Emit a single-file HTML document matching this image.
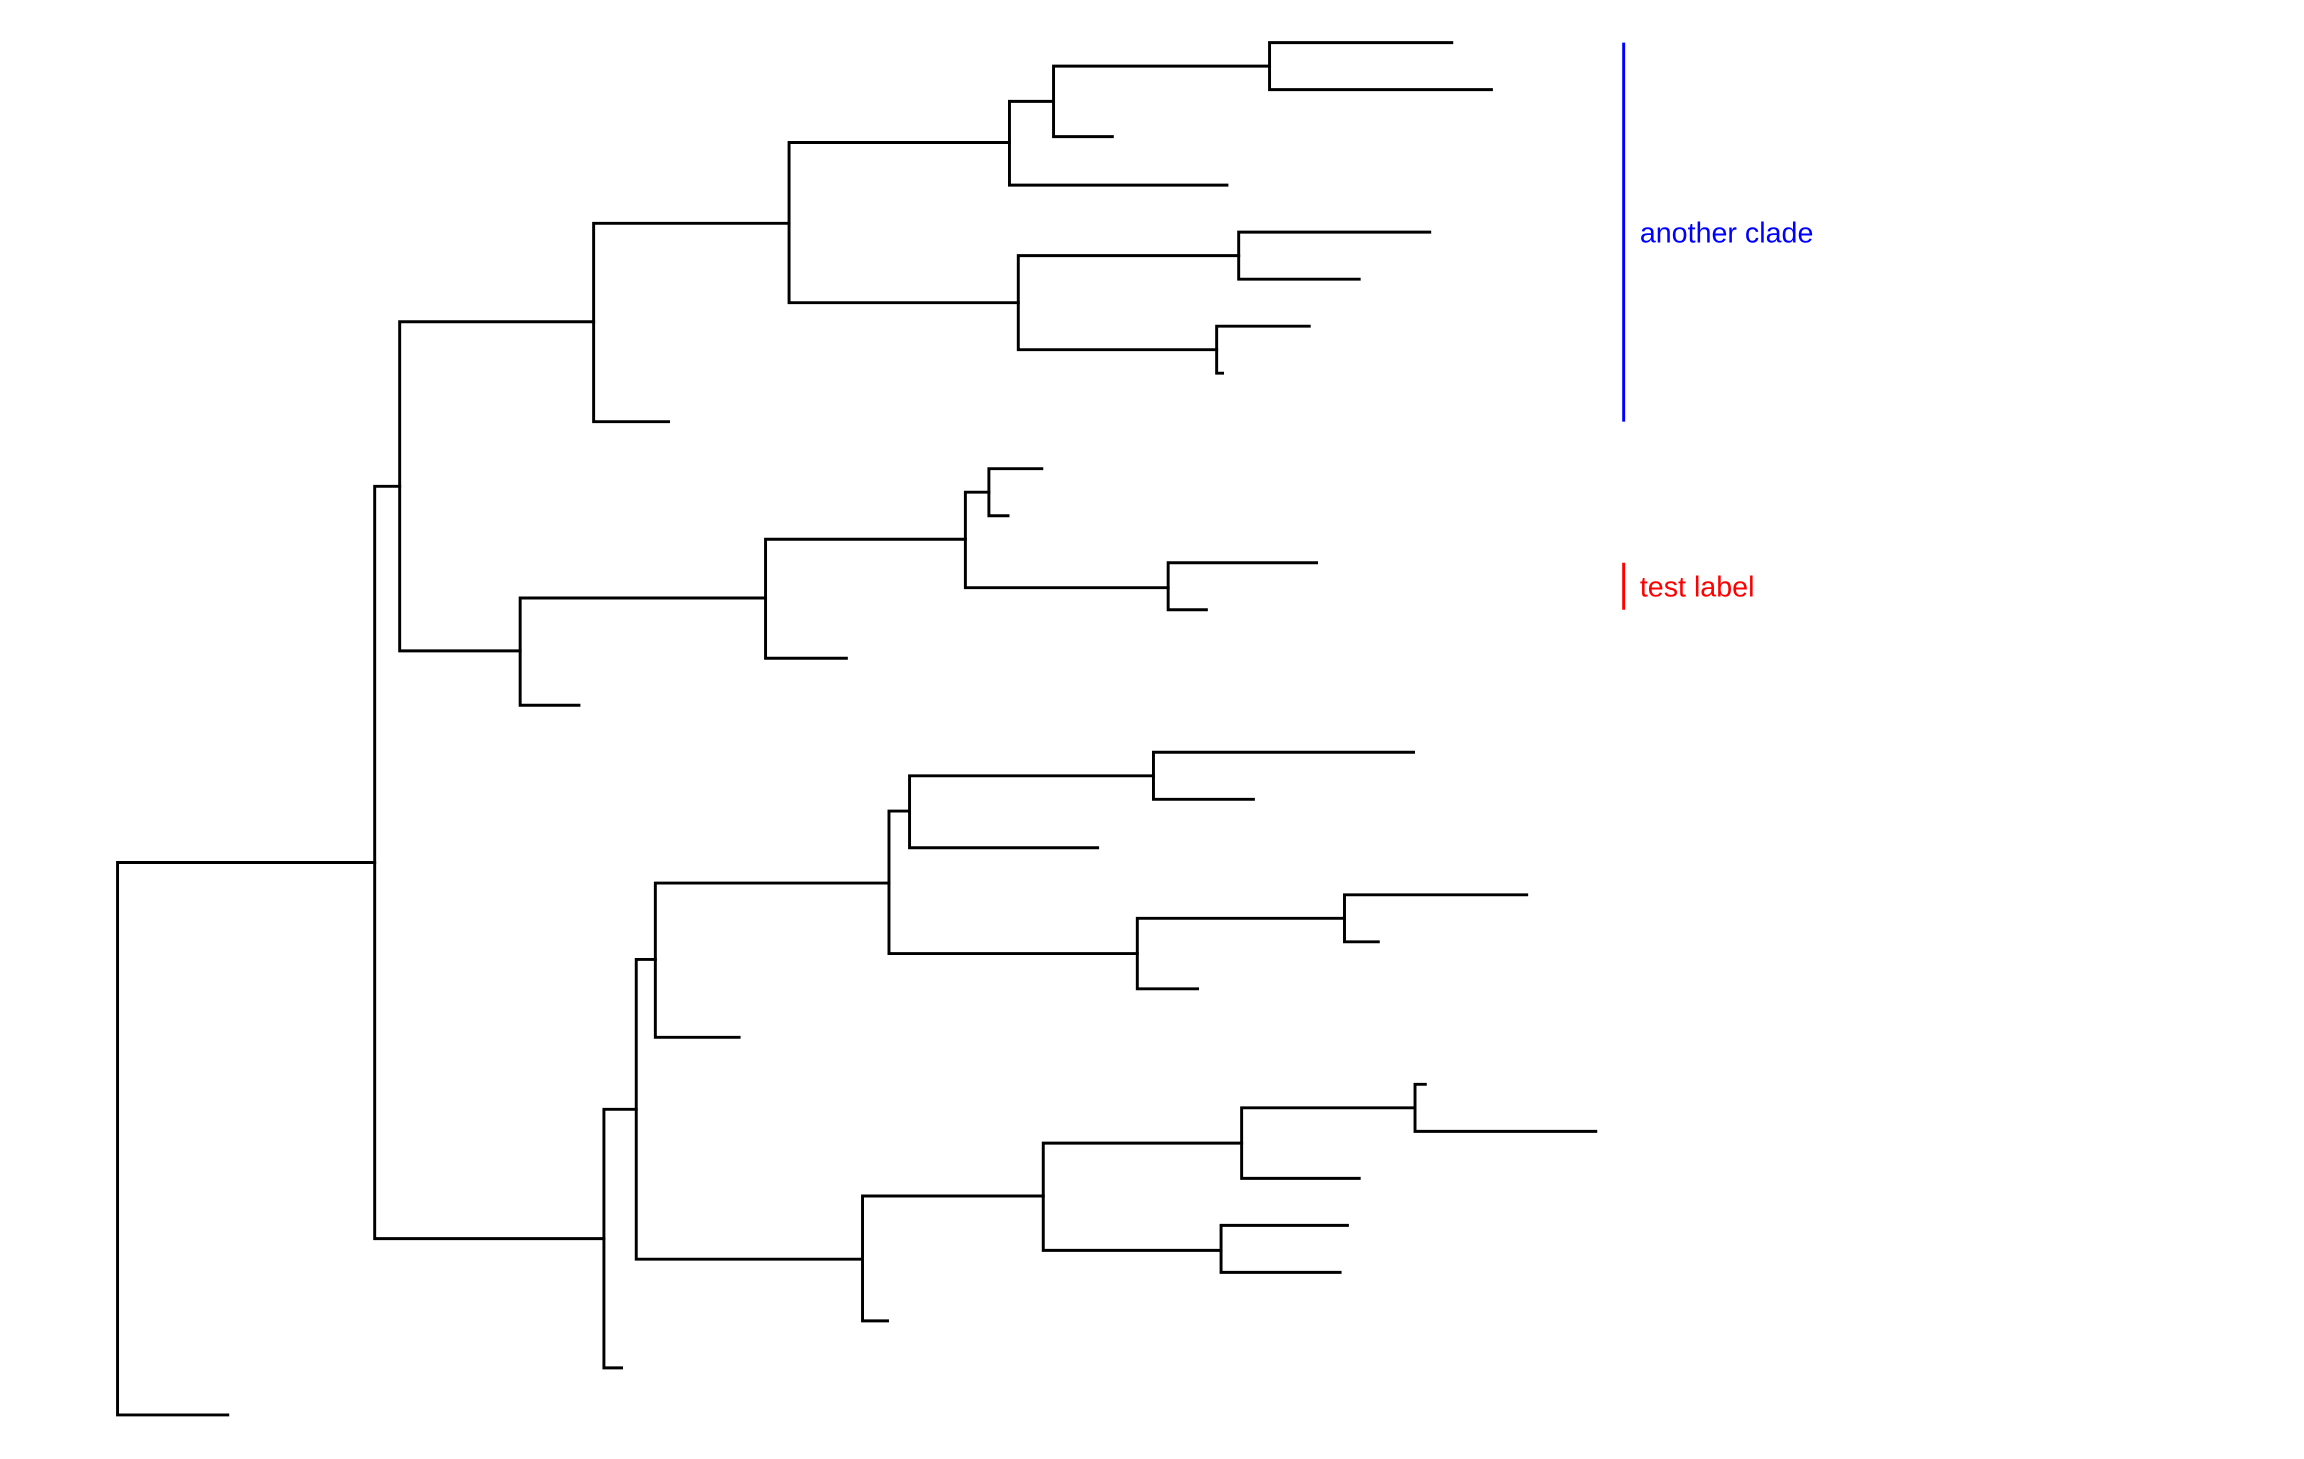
<!DOCTYPE html>
<html><head><meta charset="utf-8"><style>
html,body{margin:0;padding:0;background:#fff;width:2304px;height:1459px;overflow:hidden}
svg{display:block}
text{font-family:"Liberation Sans",sans-serif;font-size:19.5px}
</style></head><body>
<svg width="2304" height="1459" viewBox="0 0 1568 993" preserveAspectRatio="none">
<g stroke="#000" stroke-width="2" fill="none" stroke-linecap="square">
<path d="M80 587V963M80 587H255M80 963H155"/>
<path d="M255 331V843M255 331H272M255 843H411"/>
<path d="M272 219V443M272 219H404M272 443H354"/>
<path d="M404 152V287M404 152H537M404 287H455"/>
<path d="M537 97V206M537 97H687M537 206H693"/>
<path d="M687 69V126M687 69H717M687 126H835"/>
<path d="M717 45V93M717 45H864M717 93H757"/>
<path d="M864 29V61M864 29H988M864 61H1015"/>
<path d="M693 174V238M693 174H843M693 238H828"/>
<path d="M843 158V190M843 158H973M843 190H925"/>
<path d="M828 222V254M828 222H891M828 254H832"/>
<path d="M354 407V480M354 407H521M354 480H394"/>
<path d="M521 367V448M521 367H657M521 448H576"/>
<path d="M657 335V400M657 335H673M657 400H795"/>
<path d="M673 319V351M673 319H709M673 351H686"/>
<path d="M795 383V415M795 383H896M795 415H821"/>
<path d="M411 755V931M411 755H433M411 931H423"/>
<path d="M433 653V857M433 653H446M433 857H587"/>
<path d="M446 601V706M446 601H605M446 706H503"/>
<path d="M605 552V649M605 552H619M605 649H774"/>
<path d="M619 528V577M619 528H785M619 577H747"/>
<path d="M785 512V544M785 512H962M785 544H853"/>
<path d="M774 625V673M774 625H915M774 673H815"/>
<path d="M915 609V641M915 609H1039M915 641H938"/>
<path d="M587 814V899M587 814H710M587 899H604"/>
<path d="M710 778V851M710 778H845M710 851H831"/>
<path d="M845 754V802M845 754H963M845 802H925"/>
<path d="M963 738V770M963 738H970M963 770H1086"/>
<path d="M831 834V866M831 834H917M831 866H912"/>
</g>
<path d="M1105 29V287" stroke="#00f" stroke-width="2"/>
<text x="1116" y="165" fill="#00f">another clade</text>
<path d="M1105 383V415" stroke="#f00" stroke-width="2"/>
<text x="1116" y="406" fill="#f00">test label</text>
</svg>
</body></html>
